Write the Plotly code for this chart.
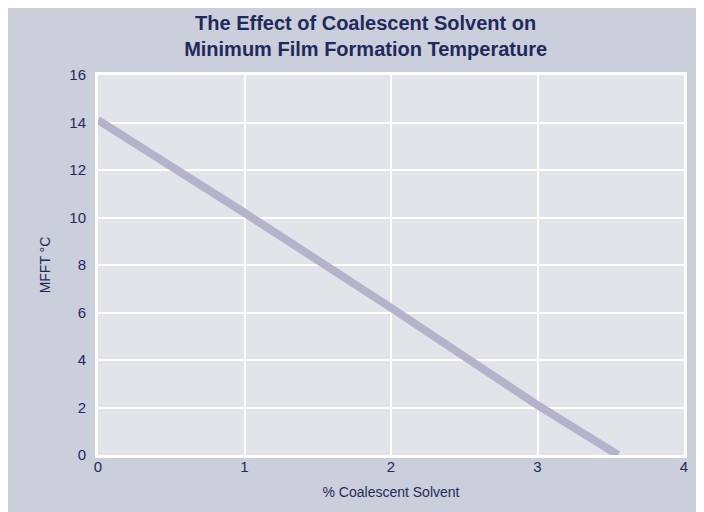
import plotly.graph_objects as go

# Data
solvent_pct = [0.0, 1.0, 2.0, 3.0, 3.55]
mfft_c = [14.1, 10.2, 6.2, 2.1, 0.0]

x_ticks = [0, 1, 2, 3, 4]
y_ticks = [0, 2, 4, 6, 8, 10, 12, 14, 16]

title_text = "<b>The Effect of Coalescent Solvent on<br>Minimum Film Formation Temperature</b>"
x_title = "% Coalescent Solvent"
y_title = "MFFT °C"

navy = "#1f2a5c"
outer_bg = "#cbcedb"
plot_bg = "#e3e3ea"
line_col = "#b3b3cb"

fig = go.Figure()
fig.add_trace(go.Scatter(
    x=solvent_pct, y=mfft_c, mode="lines",
    line=dict(color=line_col, width=8),
    hoverinfo="skip", showlegend=False,
))

W, H = 704, 512

fig.update_layout(
    width=W, height=H,
    margin=dict(l=90, r=28, t=67, b=65),
    paper_bgcolor=outer_bg,
    plot_bgcolor=plot_bg,
    font=dict(family="Liberation Sans Narrow, Liberation Sans, Arial, sans-serif", color=navy, size=15),
    title=dict(text=title_text, x=0.508, xanchor="center", y=0.958, yanchor="top",
               font=dict(size=20, color=navy, family="Liberation Sans, Arial, sans-serif")),
    xaxis=dict(range=[0, 4], tickvals=x_ticks, showgrid=True, gridcolor="white", gridwidth=2,
               zeroline=False, showline=True, linecolor="white", linewidth=3, mirror=True,
               ticks="", tickfont=dict(size=15, color=navy), ticklabelstandoff=-4,
               title=dict(text=x_title, font=dict(size=14, color=navy), standoff=14)),
    yaxis=dict(range=[0, 16], tickvals=y_ticks, showgrid=True, gridcolor="white", gridwidth=2,
               zeroline=False, showline=True, linecolor="white", linewidth=3, mirror=True,
               ticks="", tickfont=dict(size=15, color=navy), ticklabelstandoff=6,
               title=dict(text=y_title, font=dict(size=14, color=navy), standoff=16)),
)

fig.write_html("out.html")
